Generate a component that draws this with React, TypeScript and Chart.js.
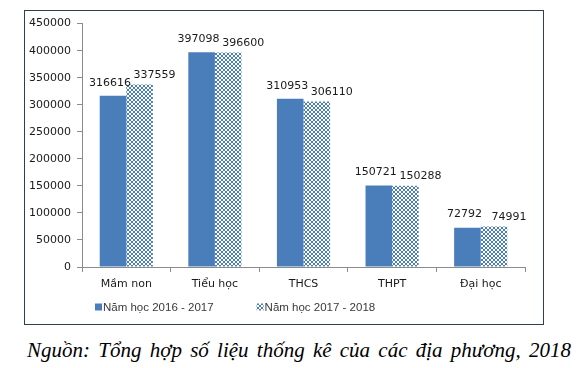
import React, { useEffect, useRef } from "react";
import { Chart, registerables } from "chart.js";

Chart.register(...registerables);

const categories = ["Mầm non", "Tiểu học", "THCS", "THPT", "Đại học"];
const values2016 = [316616, 397098, 310953, 150721, 72792];
const values2017 = [337559, 396600, 306110, 150288, 74991];
const seriesNames = ["Năm học 2016 - 2017", "Năm học 2017 - 2018"];
const yMin = 0;
const yMax = 450000;
const yStep = 50000;
const caption = "Nguồn: Tổng hợp số liệu thống kê của các địa phương, 2018";

const BLUE = "#4a7ebb";
const AXIS = "#8c8c8c";
const TICK_FONT = "'DejaVu Sans', Verdana, sans-serif";

function makePattern(ctx: CanvasRenderingContext2D) {
  const c = document.createElement("canvas");
  c.width = 4;
  c.height = 4;
  const g = c.getContext("2d")!;
  g.fillStyle = "#ffffff";
  g.fillRect(0, 0, 4, 4);
  g.fillStyle = BLUE;
  g.fillRect(0, 0, 2, 2);
  g.fillRect(2, 2, 2, 2);
  return ctx.createPattern(c, "repeat");
}

const valueLabels = {
  id: "valueLabels",
  afterDatasetsDraw(chart: any) {
    const ctx = chart.ctx;
    ctx.save();
    ctx.font = `11px ${TICK_FONT}`;
    ctx.fillStyle = "#1a1a1a";
    ctx.textAlign = "center";
    ctx.textBaseline = "middle";
    chart.data.datasets.forEach((ds: any, di: number) => {
      const meta = chart.getDatasetMeta(di);
      meta.data.forEach((bar: any, i: number) => {
        const dx = di === 0 ? -3 : 15;
        const dy = di === 0 ? 13 : 9.5;
        ctx.fillText(String(ds.data[i]), bar.x + dx, bar.y - dy);
      });
    });
    ctx.restore();
  },
};

const bottomLegend = {
  id: "bottomLegend",
  afterDraw(chart: any) {
    const ctx = chart.ctx;
    ctx.save();
    ctx.font = "11.5px 'Liberation Sans', Arial, sans-serif";
    ctx.textBaseline = "middle";
    ctx.textAlign = "left";
    let x = chart.chartArea.left + 13;
    const y = chart.chartArea.bottom + 40;
    chart.data.datasets.forEach((ds: any) => {
      ctx.fillStyle = ds.backgroundColor;
      ctx.fillRect(x, y - 3.5, 7, 7);
      ctx.fillStyle = "#3a3a3a";
      ctx.fillText(ds.label, x + 8, y + 0.5);
      x += 8 + ctx.measureText(ds.label).width + 43;
    });
    ctx.restore();
  },
};

export default function App() {
  const ref = useRef<HTMLCanvasElement>(null);

  useEffect(() => {
    const canvas = ref.current!;
    const ctx = canvas.getContext("2d")!;
    const pattern = makePattern(ctx);
    const chart = new Chart(canvas, {
      type: "bar",
      data: {
        labels: categories,
        datasets: [
          {
            label: seriesNames[0],
            data: values2016,
            backgroundColor: BLUE,
            borderWidth: 0,
          },
          {
            label: seriesNames[1],
            data: values2017,
            backgroundColor: pattern as any,
            borderWidth: 0,
          },
        ],
      },
      options: {
        responsive: false,
        animation: false,
        layout: { padding: { left: 0, right: 18, top: 12, bottom: 30 } },
        plugins: {
          legend: { display: false },
          tooltip: { enabled: false },
        },
        datasets: {
          bar: { categoryPercentage: 0.6, barPercentage: 1.0 },
        },
        scales: {
          x: {
            grid: {
              display: true,
              drawOnChartArea: false,
              offset: true,
              tickLength: 5,
              color: AXIS,
            },
            border: { color: AXIS },
            ticks: {
              padding: 6,
              color: "#1a1a1a",
              font: { family: TICK_FONT, size: 11 },
            },
            afterFit: (scale: any) => {
              scale.height = 27;
            },
          },
          y: {
            min: yMin,
            max: yMax,
            grid: {
              display: true,
              drawOnChartArea: false,
              tickLength: 5,
              color: AXIS,
            },
            border: { color: AXIS },
            ticks: {
              stepSize: yStep,
              padding: 6,
              color: "#1a1a1a",
              font: { family: TICK_FONT, size: 11 },
              callback: (v: any) => String(v),
            },
            afterFit: (scale: any) => {
              scale.width = 57;
            },
          },
        },
      },
      plugins: [valueLabels, bottomLegend],
    });
    return () => chart.destroy();
  }, []);

  return (
    <div style={{ position: "absolute", left: 0, top: 0, width: 581, height: 368, background: "#fff" }}>
      <div
        style={{
          position: "absolute",
          left: 24,
          top: 10,
          width: 518,
          height: 313,
          border: "1px solid #2e3f50",
        }}
      >
        <canvas ref={ref} width={518} height={313} style={{ display: "block", width: 518, height: 313 }} />
      </div>
      <div
        style={{
          position: "absolute",
          left: 27,
          top: 339,
          fontFamily: "'Liberation Serif', 'Times New Roman', serif",
          fontStyle: "italic",
          fontSize: 21,
          lineHeight: "22px",
          wordSpacing: 3,
          whiteSpace: "nowrap",
          color: "#000",
        }}
      >
        {caption}
      </div>
    </div>
  );
}
